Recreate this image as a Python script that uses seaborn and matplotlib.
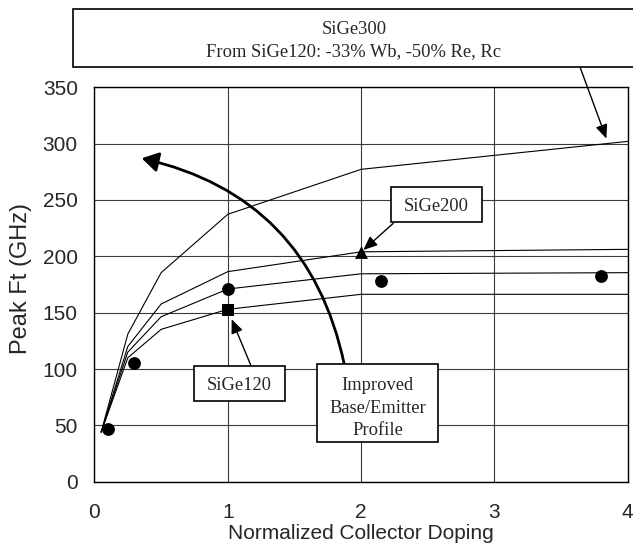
import matplotlib
matplotlib.use("Agg")
import matplotlib.pyplot as plt
import seaborn as sns
import pandas as pd
from matplotlib.patches import Rectangle, FancyArrowPatch

# ---- data ----
doping = [0.05, 0.25, 0.5, 1.0, 2.0, 4.0]
sige300 = [44, 131, 185.5, 237.3, 277.2, 302]
sige200 = [44, 120, 157.7, 186.4, 204, 206.2]
sige_mid = [44, 115, 146.4, 171, 184.5, 185.5]
sige120 = [44, 110, 135.2, 153, 166.3, 166.3]

meas_x = [0.1, 0.3, 1.0, 2.15, 3.8]
meas_y = [46.5, 105, 171, 178.4, 182.5]
sq_x, sq_y = [1.0], [152.4]
tri_x, tri_y = [2.0], [204]

x_ticks = [0, 1, 2, 3, 4]
y_ticks = [0, 50, 100, 150, 200, 250, 300, 350]

sns.set_style("white")
plt.rcParams['font.family'] = ['Liberation Sans', 'DejaVu Sans']

W, H = 633, 548
fig = plt.figure(figsize=(W / 100, H / 100), dpi=100)
L, R, T, B = 94.5, 627.7, 87.3, 481.7
ax = fig.add_axes([L / W, 1 - B / H, (R - L) / W, (B - T) / H])

rows = []
for name, vals in [("SiGe300", sige300), ("SiGe200", sige200),
                   ("Mid", sige_mid), ("SiGe120", sige120)]:
    for xv, yv in zip(doping, vals):
        rows.append({"x": xv, "y": yv, "s": name})
df = pd.DataFrame(rows)
sns.lineplot(data=df, x="x", y="y", hue="s", palette=["black"] * 4,
             estimator=None, sort=False, lw=0.8, legend=False, ax=ax, zorder=3)

sns.scatterplot(x=meas_x, y=meas_y, color="black", marker="o", s=85,
                edgecolor="black", linewidth=0, ax=ax, zorder=4)
sns.scatterplot(x=sq_x, y=sq_y, color="black", marker="s", s=75,
                edgecolor="black", linewidth=0, ax=ax, zorder=4)
sns.scatterplot(x=tri_x, y=tri_y, color="black", marker="^", s=85,
                edgecolor="black", linewidth=0, ax=ax, zorder=4)

ax.set_xlim(0, 4)
ax.set_ylim(0, 350)
ax.set_xticks(x_ticks)
ax.set_yticks(y_ticks)
ax.grid(True, color="#3a3a3a", lw=0.8)
ax.set_axisbelow(True)
for sp in ax.spines.values():
    sp.set_color("black")
    sp.set_linewidth(1.0)
ax.tick_params(axis="both", length=0, labelsize=15)
ax.tick_params(axis="x", pad=15)
ax.tick_params(axis="y", pad=12)
ax.set_xlabel("Normalized Collector Doping", fontsize=15, labelpad=2)
ax.set_ylabel("Peak Ft (GHz)", fontsize=17, va="center")
ax.yaxis.set_label_coords((21 - L) / (R - L), (B - 278) / (B - T))

# curved arrow
arr = FancyArrowPatch((1.874, 104), (0.354, 287),
                      connectionstyle="arc3,rad=0.32",
                      arrowstyle="-|>,head_length=1.0,head_width=0.6",
                      mutation_scale=10, color="black", lw=2.0,
                      shrinkA=0, shrinkB=0, zorder=5, clip_on=False)
ax.add_patch(arr)

serif = ['Liberation Serif', 'DejaVu Serif']


def px(xp, yp):
    return xp / W, 1 - yp / H


def box(l, t, r, b):
    rect = Rectangle(px(l, b), (r - l) / W, (b - t) / H,
                     transform=fig.transFigure, facecolor="white",
                     edgecolor="black", lw=1.2, zorder=6)
    fig.add_artist(rect)


def txt(xp, yp, s):
    fig.text(*px(xp, yp + 2), s, ha="center", va="center", fontsize=13.3,
             family=serif, zorder=7)


def pointer(x0, y0, xd, yd):
    ax.annotate("", xy=(xd, yd), xycoords="data",
                xytext=px(x0, y0), textcoords="figure fraction",
                arrowprops=dict(arrowstyle="-|>,head_length=0.7,head_width=0.3",
                                color="black", lw=1.0, shrinkA=0, shrinkB=0,
                                mutation_scale=12),
                annotation_clip=False, zorder=5)


box(73, 9.3, 645, 66.7)
txt(354, 28, "SiGe300")
txt(354, 50, "From SiGe120: -33% Wb, -50% Re, Rc")
pointer(580, 67, 3.84, 304.5)

box(391, 186.7, 481.7, 222.3)
txt(436.3, 204.5, "SiGe200")
pointer(393.3, 223.3, 2.017, 205.6)

box(194.3, 365.7, 285, 401)
txt(239.7, 383.3, "SiGe120")
pointer(250.7, 365, 1.029, 144.1)

box(316.7, 364.3, 438.3, 442)
txt(377.5, 383.3, "Improved")
txt(377.5, 406.3, "Base/Emitter")
txt(377.5, 428.3, "Profile")

fig.savefig("out.png", dpi=100)
